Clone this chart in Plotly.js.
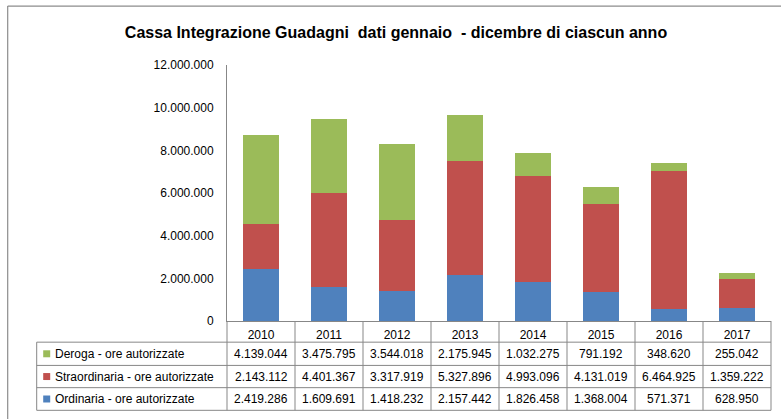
<!DOCTYPE html>
<html>
<head>
<meta charset="utf-8">
<script src="https://cdn.plot.ly/plotly-3.0.1.min.js"></script>
<style>html,body{margin:0;padding:0;background:#fff;}#chart{width:781px;height:419px;}</style>
</head>
<body>
<div id="chart"></div>
<script>
const years = ['2010','2011','2012','2013','2014','2015','2016','2017'];
const seriesNames = ['Deroga - ore autorizzate','Straordinaria - ore autorizzate','Ordinaria - ore autorizzate'];
const deroga = [4139044, 3475795, 3544018, 2175945, 1032275, 791192, 348620, 255042];
const straordinaria = [2143112, 4401367, 3317919, 5327896, 4993096, 4131019, 6464925, 1359222];
const ordinaria = [2419286, 1609691, 1418232, 2157442, 1826458, 1368004, 571371, 628950];
const colors = {deroga:'#9BBB59', straordinaria:'#C0504D', ordinaria:'#4F81BD'};
const titleText = 'Cassa Integrazione Guadagni  dati gennaio  - dicembre di ciascun anno';

const W = 781, Hh = 419;
const L = 227.3, R = 771.3, T = 65, B = 321.5;
const PW = R - L, PH = B - T;
const px = v => (v - L) / PW;
const py = v => (B - v) / PH;
const FONT = 'Liberation Sans, Arial, sans-serif';
const GRID = '#878787';
const idx = years.map((_, i) => i);

function fmt(n){ return String(n).replace(/\B(?=(\d{3})+(?!\d))/g, '.'); }

const traces = [
  {type:'bar', name:seriesNames[2], x:idx, y:ordinaria, marker:{color:colors.ordinaria}},
  {type:'bar', name:seriesNames[1], x:idx, y:straordinaria, marker:{color:colors.straordinaria}},
  {type:'bar', name:seriesNames[0], x:idx, y:deroga, marker:{color:colors.deroga}}
];

const rowTops = [342.7, 366, 388.3];
const rowBottom = 411;
const rows = [
  {name:seriesNames[0], vals:deroga, color:colors.deroga},
  {name:seriesNames[1], vals:straordinaria, color:colors.straordinaria},
  {name:seriesNames[2], vals:ordinaria, color:colors.ordinaria}
];

const shapes = [];
const annotations = [];
const lineStyle = {color:GRID, width:1};

// outer chart border
shapes.push({type:'line', xref:'paper', yref:'paper', x0:px(8), x1:px(800), y0:py(6), y1:py(6), line:{color:'#8c8c8c', width:1.2}});
shapes.push({type:'line', xref:'paper', yref:'paper', x0:px(8), x1:px(8), y0:py(6), y1:py(440), line:{color:'#8c8c8c', width:1.2}});

// table horizontal lines
[rowTops[0], rowTops[1], rowTops[2], rowBottom].forEach(yy => {
  shapes.push({type:'line', xref:'paper', yref:'paper', x0:px(37), x1:px(R), y0:py(yy), y1:py(yy), line:lineStyle});
});
// left border of table body
shapes.push({type:'line', xref:'paper', yref:'paper', x0:px(37), x1:px(37), y0:py(rowTops[0]), y1:py(rowBottom), line:lineStyle});
// vertical dividers between year columns
for (let i = 0; i <= years.length; i++) {
  shapes.push({type:'line', xref:'paper', yref:'paper', x0:i / years.length, x1:i / years.length, y0:0, y1:py(rowBottom), line:lineStyle});
}

rows.forEach((r, k) => {
  const top = rowTops[k];
  const bot = k < 2 ? rowTops[k + 1] : rowBottom;
  const cy = (top + bot) / 2;
  shapes.push({type:'rect', xref:'paper', yref:'paper', x0:px(43.5), x1:px(50.5), y0:py(cy + 3.5), y1:py(cy - 3.5), fillcolor:r.color, line:{width:0}});
  annotations.push({xref:'paper', yref:'paper', x:px(53), y:py(cy), xanchor:'left', yanchor:'middle', showarrow:false, text:r.name, font:{family:FONT, size:12, color:'#000'}});
  r.vals.forEach((v, i) => {
    annotations.push({xref:'x', yref:'paper', x:idx[i], y:py(cy), xanchor:'center', yanchor:'middle', showarrow:false, text:fmt(v), font:{family:FONT, size:12, color:'#000'}});
  });
});

const layout = {
  width: W, height: Hh,
  margin: {l:L, r:W - R, t:T, b:Hh - B, pad:0},
  paper_bgcolor:'#fff', plot_bgcolor:'#fff',
  barmode:'stack', bargap:0.485,
  showlegend:false,
  separators:',.',
  title:{text:'<b>' + titleText + '</b>', x:396/W, xanchor:'center', y:1 - 32/Hh, yanchor:'middle', yref:'container', xref:'container', font:{family:FONT, size:16, color:'#000'}},
  xaxis:{type:'linear', range:[-0.5, years.length - 0.5], tickvals:idx, ticktext:years, showgrid:false, zeroline:false, showline:true, linecolor:GRID, linewidth:1, ticks:'', tickfont:{family:FONT, size:12, color:'#000'}, ticklabelstandoff:3, fixedrange:true},
  yaxis:{range:[0, 12000000], tickvals:[0,2000000,4000000,6000000,8000000,10000000,12000000], tickformat:',d', showgrid:false, zeroline:false, showline:true, linecolor:GRID, linewidth:1, ticks:'', ticklabelstandoff:10, tickfont:{family:FONT, size:12, color:'#000'}, fixedrange:true},
  shapes: shapes,
  annotations: annotations
};

Plotly.newPlot('chart', traces, layout, {staticPlot:true, displayModeBar:false});
</script>
</body>
</html>
